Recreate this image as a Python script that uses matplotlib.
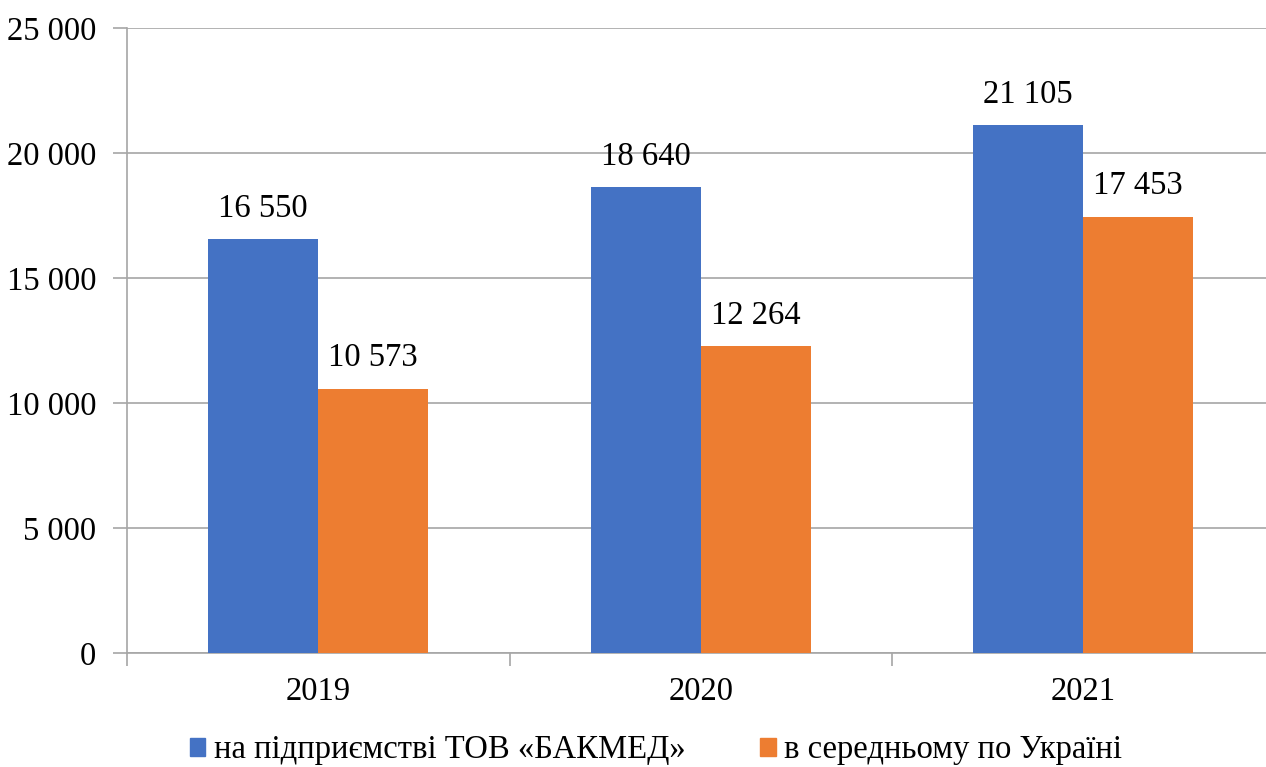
import matplotlib
matplotlib.use("Agg")
import matplotlib.pyplot as plt
import numpy as np
from matplotlib.patches import Patch

years = ["2019", "2020", "2021"]
company = [16550, 18640, 21105]
ukraine = [10573, 12264, 17453]
series_names = ["на підприємстві ТОВ «БАКМЕД»", "в середньому по Україні"]
yticks = [0, 5000, 10000, 15000, 20000, 25000]

plt.rcParams['font.family'] = ['Liberation Serif', 'DejaVu Serif']
FS = 23.5
BLUE = "#4472C4"
ORANGE = "#ED7D31"
GRID = "#A6A6A6"

def fmt(v):
    return f"{v:,}".replace(",", " ")

fig = plt.figure(figsize=(12.66, 7.67), dpi=100)
ax = fig.add_axes([127/1266, 114/767, 1147.5/1266, 625/767])

x = np.arange(len(years))
w = 0.2876
b1 = ax.bar(x - w/2, company, w, color=BLUE, label=series_names[0], zorder=3)
b2 = ax.bar(x + w/2, ukraine, w, color=ORANGE, label=series_names[1], zorder=3)

for bars, vals in ((b1, company), (b2, ukraine)):
    for r, v in zip(bars, vals):
        ax.annotate(fmt(v), (r.get_x() + r.get_width()/2, v), xytext=(0, 11),
                    textcoords="offset points", ha="center", va="bottom", fontsize=FS)

ax.set_xlim(-0.5, 2.5)
ax.set_ylim(0, 25000)
ax.set_yticks(yticks)
ax.set_yticklabels([fmt(t) for t in yticks])
ax.set_xticks(x)
ax.set_xticklabels(years)
ax.set_xticks([-0.5, 0.5, 1.5, 2.5], minor=True)
ax.tick_params(axis='x', which='major', length=0, pad=17, labelsize=FS)
ax.tick_params(axis='x', which='minor', length=9, color=GRID, width=1.2)
ax.tick_params(axis='y', length=10, color=GRID, width=1.2, pad=12, labelsize=FS)

ax.yaxis.grid(True, color=GRID, linewidth=1.2, zorder=0)
ax.set_axisbelow(True)
for s in ["top", "right"]:
    ax.spines[s].set_visible(False)
for s in ["left", "bottom"]:
    ax.spines[s].set_color(GRID)
    ax.spines[s].set_linewidth(1.2)

handles = [Patch(color=BLUE), Patch(color=ORANGE)]
fig.legend(handles, series_names, loc="center", bbox_to_anchor=(656/1266, 1 - 750/767),
           ncol=2, frameon=False, fontsize=FS, handlelength=0.47, handleheight=0.47,
           handletextpad=0.25, columnspacing=2.3, borderpad=0)

fig.savefig("out.png", dpi=100)
